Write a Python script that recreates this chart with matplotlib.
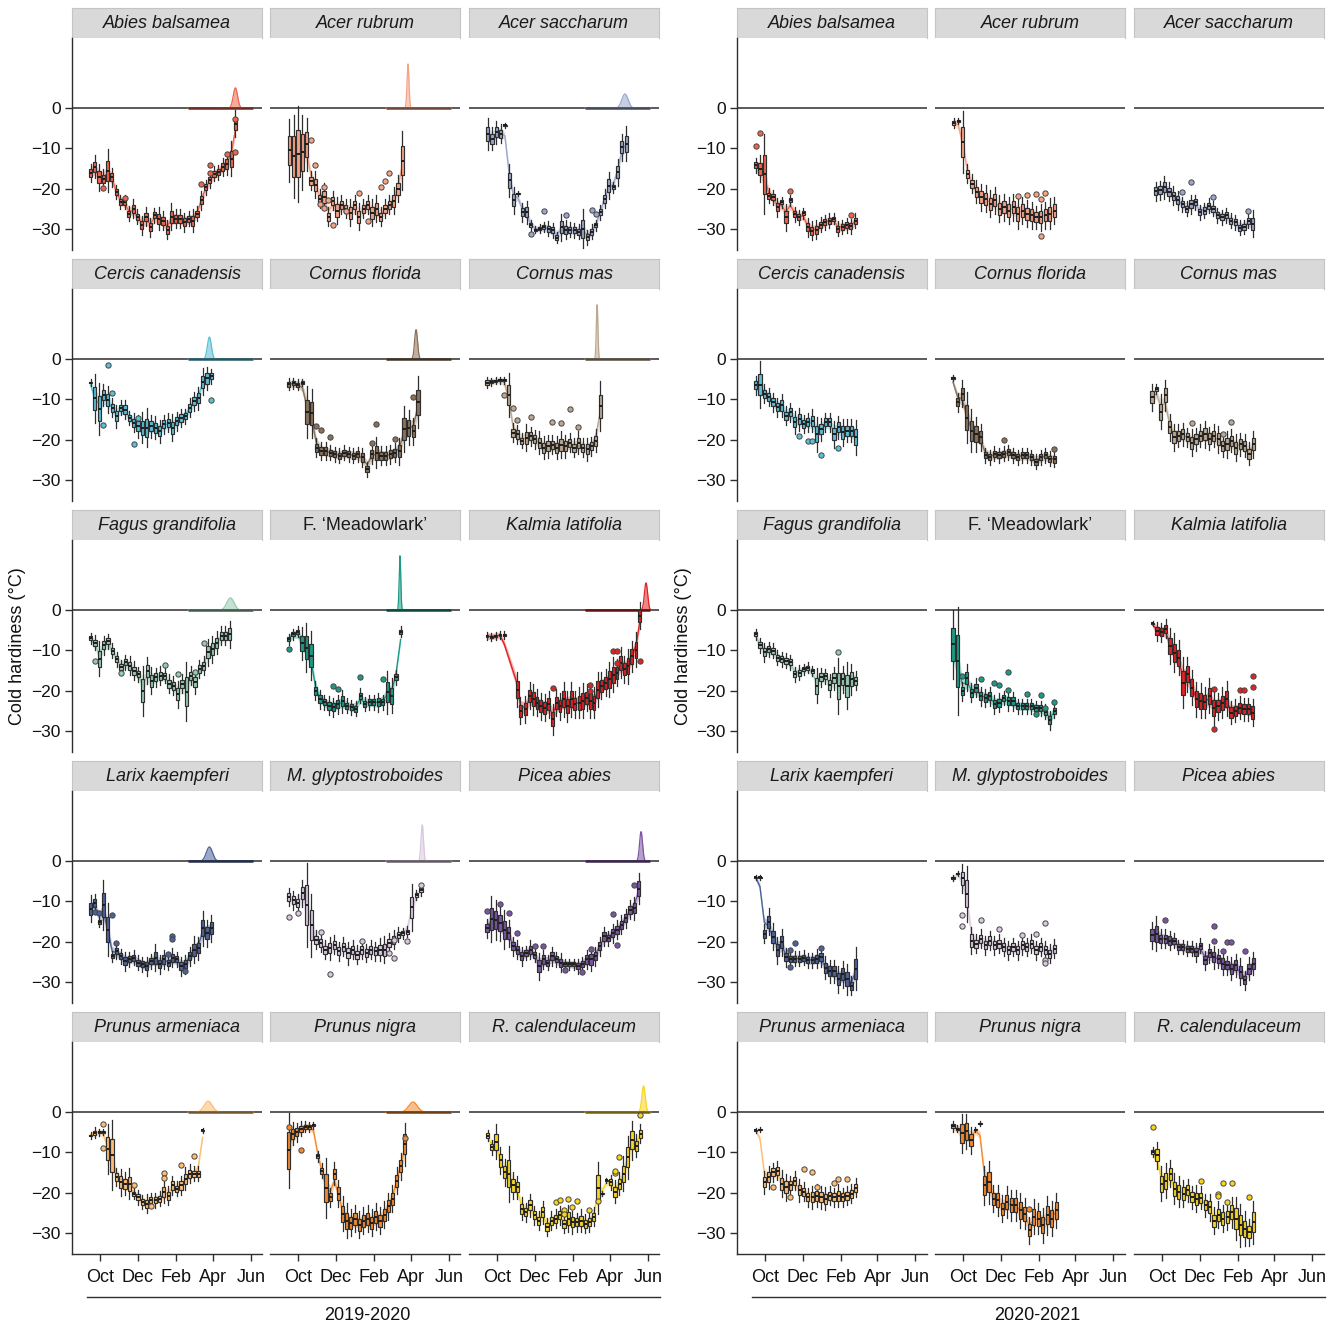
import numpy as np
import matplotlib
matplotlib.use("Agg")
import matplotlib.pyplot as plt
import matplotlib.colors as mcolors
from matplotlib.lines import Line2D

plt.rcParams['font.family'] = ['Liberation Sans', 'DejaVu Sans']

# ---------------------------------------------------------------- species
SPECIES = ["Abies balsamea", "Acer rubrum", "Acer saccharum",
           "Cercis canadensis", "Cornus florida", "Cornus mas",
           "Fagus grandifolia", "F. \u2018Meadowlark\u2019", "Kalmia latifolia",
           "Larix kaempferi", "M. glyptostroboides", "Picea abies",
           "Prunus armeniaca", "Prunus nigra", "R. calendulaceum"]
ITALIC = [True, True, True, True, True, True, True, False, True,
          True, True, True, True, True, True]
COLORS = ['#F0654B', '#F5A385', '#9AA6CB', '#5BBFD8', '#8C7057',
          '#BBA88F', '#95C9B0', '#1B9B86', '#E02323', '#4D629A',
          '#D9C7E0', '#7A55A6', '#FDBD72', '#F48A2C', '#F8D51E']

# budburst timing 2020 (days after 1 Oct): mean and spread
BUDBURST_DAY = [219, 178, 207, 177, 191, 162, 211, 165, 241, 177, 201, 233, 175, 186, 237]
BUDBURST_SD = [3.5, 1.6, 5.0, 3.2, 2.4, 1.3, 5.8, 1.3, 2.6, 5.0, 1.95, 2.4, 6.5, 7.0, 2.7]
DENSITY_AREA = 44.0
DENSITY_SPAN = (143, 248)

SEASONS = ["2019-2020", "2020-2021"]
MONTHS = ["Oct", "Dec", "Feb", "Apr", "Jun"]
MONTH_DAYS = {"2019-2020": [0, 61, 123, 183, 244], "2020-2021": [0, 61, 123, 182, 243]}

# ---------------------------------------------------------------- 2019-2020
FIRST_19 = [-15, -14, -15, -15, -15, -16, -15, -15, None, -15, -15, -16, -15, -15, -15]
LAST_19 = [219, 169, 209, 180, 194, 167, 210, 166, None, 180, 199, 229, 166, 173, 232]

abies_19_med = [-16.1, -14.6, -17.1, -17.5, -15.5, -17.1, -20.8, -23.3, -23.3, -26.2, -25.0, -27.0, -29.1, -27.0, -29.6, -26.6, -27.4, -27.9, -30.2, -27.0, -27.4, -27.4, -28.3, -27.4, -27.9, -26.2, -22.9, -19.6, -17.9, -16.3, -15.9, -14.6, -13.8, -12.6, -3.9]
abies_19_iqr = [2, 2.5, 3, 2, 5, 2, 1.5, 1.5, 1.5, 1.5, 2, 1.5, 2, 2, 2, 1.5, 2.5, 2, 2, 3, 2, 2, 2, 1.5, 2.5, 1.5, 2, 1.5, 1.5, 1.5, 1.5, 2, 2.5, 4, 3]
abies_19_out = [(3, -19.8), (8, -22.3), (26, -18.8), (28, -14.1), (28, -16.0), (32, -11.5), (34, -11.0), (34, -2.6)]

acru_19_med = [-10.5, -12, -11.3, -11, -9, -18, -19, -22.5, -22, -27, -23, -25.4, -24, -25, -26, -24, -27, -25, -24, -26, -25, -27, -25, -24, -23, -20, -13]
acru_19_iqr = [7.4, 10, 11.6, 9, 6.2, 2, 3, 2, 3, 2, 2, 3, 2, 2, 3, 2, 3, 2, 2, 3, 3, 2, 2, 2, 3, 3, 7]
acru_19_out = [(5, -8.0), (6, -14.0), (7, -23.7), (8, -19.6), (8, -24.7), (9, -22.7), (10, -29.0), (13, -25.5), (16, -21.0), (18, -28.0), (21, -19.5), (22, -18.0), (23, -16.0)]

acsa_19_med = [-6.4, -7.6, -6.0, -6.4, -4.3, -17.9, -22.9, -21.2, -25.8, -25.8, -29.1, -30.2, -29.9, -29.5, -29.9, -30.3, -32.1, -29.5, -30.2, -30.2, -30.3, -30.7, -29.9, -32.0, -30.7, -29.1, -25.8, -22.5, -19.2, -19.6, -15.9, -9.7, -8.8]
acsa_19_iqr = [3.6, 2.5, 2.5, 2, 0.3, 3.7, 3, 0.3, 2, 2.5, 1, 0.5, 0.8, 1, 1.5, 1.5, 1, 3, 2, 1.5, 1.5, 1.5, 4.5, 1.5, 1.5, 1, 1.5, 2, 3, 1, 3, 3, 4]
acsa_19_out = [(10, -31.2), (13, -25.5), (18, -26.6), (24, -25.2), (25, -26.2)]

ceca_19_med = [-5.8, -9.7, -12.3, -8.9, -10.1, -12.1, -14.2, -12.1, -12.5, -14.6, -15.8, -16.6, -17.0, -17.0, -16.6, -17.0, -17.9, -16.2, -15.8, -17.0, -15.4, -14.6, -14.2, -12.1, -10.5, -9.7, -5.6, -4.8, -4.3]
ceca_19_iqr = [0.4, 5.7, 6.1, 2.5, 3, 2, 2.5, 1.5, 2, 1.5, 2, 2.5, 3.5, 4.5, 2.5, 2.5, 2.5, 2, 2, 3, 2, 2, 1.5, 2, 2, 2.5, 3, 2.5, 1.5]
ceca_19_out = [(4, -1.5), (3, -16.4), (5, -8.4), (10, -21.1), (11, -14.6), (28, -10.1)]

cofl_19_med = [-6.2, -6.0, -6.4, -5.8, -13.1, -13.4, -22.0, -22.8, -22.8, -23.2, -23.6, -24.0, -23.2, -23.6, -24.0, -23.6, -24.4, -27.3, -23.6, -23.2, -24.0, -24.0, -23.6, -23.2, -22.8, -17.3, -17.0, -17.9, -10.7]
cofl_19_iqr = [1.2, 1, 1, 0.5, 6.1, 5.7, 2, 2, 2, 1.5, 1.5, 1.5, 1.5, 1.5, 1.5, 1.5, 2, 1.5, 2, 3.5, 2, 2, 2, 2, 3, 5.3, 4, 3, 6.1]
cofl_19_out = [(6, -16.6), (7, -17.7), (9, -19.3), (18, -20.7), (19, -16.0), (23, -19.7), (27, -9.3)]

coma_19_med = [-5.8, -5.6, -5.4, -5.3, -5.2, -8.9, -18.3, -18.7, -20.3, -19.5, -19.1, -19.9, -20.7, -22.0, -21.6, -21.2, -22.0, -21.2, -21.6, -20.8, -22.0, -20.8, -22.0, -22.4, -21.6, -20.3, -11.7]
coma_19_iqr = [1, 0.6, 0.5, 0.5, 0.5, 5, 2, 2, 1.5, 3, 2, 2, 2.5, 2.5, 2.5, 2, 2.5, 3, 2.5, 2, 2, 2.5, 2, 2.5, 2, 2.5, 5.8]
coma_19_out = [(4, -8.9), (6, -12.1), (7, -15.2), (10, -14.4), (15, -15.5), (17, -15.9), (19, -12.4), (21, -16.8)]

fagr_19_med = [-7.0, -8.1, -12.1, -8.7, -7.7, -10.1, -12.2, -14.2, -12.9, -13.8, -15.0, -15.9, -20.0, -15.0, -17.5, -16.7, -16.3, -16.3, -18.3, -18.8, -20.9, -18.3, -20.2, -16.3, -17.9, -14.6, -13.8, -10.5, -9.7, -8.1, -6.4, -6.4, -6.0]
fagr_19_iqr = [1, 1.5, 4, 2, 1.5, 1.5, 1.5, 1.5, 1.5, 2, 2, 1.5, 5.8, 3, 3, 2, 2, 1.5, 2, 2, 3, 2, 7, 2, 2.5, 2, 2, 3, 3, 2.5, 2, 2, 3]
fagr_19_out = [(1, -12.6), (7, -15.5), (17, -13.7), (20, -15.8), (24, -15.3), (26, -8.1)]

meadow_19_med = [-7.2, -6.0, -5.4, -8.2, -9.3, -11.3, -20.0, -22.1, -22.9, -23.7, -24.1, -23.3, -22.6, -23.7, -24.1, -24.5, -21.2, -23.3, -22.9, -22.9, -22.9, -22.9, -20.4, -21.2, -16.7, -5.4]
meadow_19_iqr = [1, 1, 1, 3.7, 5.8, 5.8, 2, 2, 1.5, 2, 2, 2, 2.5, 1.5, 1.5, 1.5, 1.5, 1.5, 1.5, 1.5, 2, 1.5, 5, 4, 1.5, 1]
meadow_19_out = [(0, -9.7), (10, -18.9), (11, -19.5), (16, -16.7), (21, -17.2)]

kala_19_days = [-16, -9, -2, 5, 12, 33, 38, 46, 53, 59, 65, 71, 77, 84, 90, 96, 102, 108, 114, 120, 126, 133, 139, 145, 151, 157, 163, 169, 176, 182, 188, 194, 200, 206, 212, 218, 225, 231]
kala_19_med = [-6.4, -6.6, -6.4, -6.2, -6.2, -19.7, -25.0, -24.6, -21.3, -22.1, -23.0, -23.8, -24.2, -23.4, -27.1, -23.0, -23.8, -22.1, -23.8, -22.1, -23.4, -23.0, -22.5, -21.7, -22.5, -23.0, -19.7, -18.8, -18.0, -17.2, -16.0, -15.5, -13.1, -14.7, -13.9, -11.5, -9.8, -1.4]
kala_19_iqr = [0.6, 0.6, 0.6, 0.6, 0.6, 4, 3, 3, 3, 3.5, 3, 3, 3, 3, 3.5, 3, 3, 4, 3.5, 4, 3, 3.5, 4, 3, 4, 3.5, 4, 3, 3, 4, 4, 3, 3.5, 3, 4, 3.5, 4, 3]
kala_19_out = [(14, -19.4), (24, -18.6), (24, -20.0), (30, -10.2), (31, -10.2), (31, -13.0), (37, -12.6)]

laka_19_med = [-11.8, -10.5, -15.0, -10.9, -17.0, -23.6, -22.4, -23.6, -24.8, -24.4, -24.0, -25.2, -25.6, -26.1, -24.8, -24.0, -25.6, -24.4, -25.2, -24.0, -24.4, -26.1, -25.6, -23.6, -22.0, -21.6, -16.6, -17.9, -16.6]
laka_19_iqr = [3, 2, 1, 5.8, 6.2, 1, 1.5, 1.5, 2, 1.5, 1.5, 1.5, 1.5, 2, 1.5, 3, 2, 2, 1.5, 2, 1.5, 2, 2, 2, 3, 2.5, 4, 3, 3]
laka_19_out = [(1, -12.6), (2, -12.8), (5, -13.4), (6, -20.2), (19, -18.7), (19, -19.3), (18, -23.0), (22, -27.3)]

megl_19_med = [-8.9, -9.7, -10.5, -8.0, -10.9, -15.9, -19.5, -20.3, -22.0, -21.6, -20.8, -22.4, -21.2, -22.8, -22.0, -23.2, -22.0, -22.8, -22.0, -22.4, -22.0, -22.0, -20.3, -19.5, -18.3, -17.9, -17.5, -11.5, -8.4, -7.2]
megl_19_iqr = [2, 2, 2, 3, 10, 7.5, 2, 2, 2, 2.5, 2, 2, 2, 2.5, 2, 2, 2, 2, 2, 2, 2.5, 3, 2, 2, 1.5, 1, 1, 5.4, 1, 1]
megl_19_out = [(0, -13.8), (2, -12.8), (7, -17.5), (9, -28.1), (16, -19.7), (22, -22.8), (23, -24.0), (23, -19.5), (26, -19.7), (29, -6.0)]

piab_19_med = [-16.6, -14.4, -14.6, -15.4, -17.0, -17.9, -21.1, -22.0, -23.6, -22.8, -22.0, -23.2, -26.1, -24.4, -25.2, -23.6, -24.4, -25.2, -25.6, -25.6, -25.6, -26.1, -25.6, -24.4, -24.4, -23.6, -21.1, -18.7, -19.1, -17.9, -17.0, -15.8, -14.2, -12.1, -11.7, -6.8]
piab_19_iqr = [2, 5.4, 4.5, 4, 4.5, 3, 2, 2, 2, 1.5, 2, 1.5, 3, 2, 1.5, 2, 1.5, 2, 1, 1, 1, 1.5, 1.5, 2, 2.5, 2, 2, 2, 1.5, 2, 2, 2, 2, 2, 2.5, 3.5]
piab_19_out = [(0, -12.4), (3, -10.7), (5, -12.8), (7, -17.9), (11, -21.1), (13, -21.1), (18, -27.1), (22, -27.5), (24, -21.7), (29, -13.1), (30, -20.8), (34, -5.9)]

prar_19_med = [-5.8, -5.1, -5.0, -4.9, -9.1, -10.7, -16.1, -17.4, -17.8, -17.8, -20.2, -21.1, -22.3, -22.7, -21.9, -21.9, -21.5, -19.8, -20.7, -18.2, -19.0, -18.2, -16.5, -15.3, -15.3, -15.3, -4.5]
prar_19_iqr = [0.4, 1, 0.5, 0.4, 5.8, 8.3, 2, 3, 2.5, 3.5, 1, 1.5, 1.5, 2, 1.5, 1.5, 1.5, 2.5, 2, 2, 1.5, 2, 2.5, 2, 1.5, 1.5, 0.3]
prar_19_out = [(3, -2.9), (3, -8.9), (10, -18.0), (14, -23.4), (17, -15.1), (17, -16.4), (21, -13.0), (24, -10.9)]

prni_19_med = [-9.5, -5.4, -5.0, -4.1, -3.6, -3.7, -3.3, -11.0, -14.5, -18.8, -21.1, -15.3, -20.2, -25.2, -27.0, -27.5, -26.5, -28.0, -27.0, -26.5, -27.5, -26.0, -27.0, -25.5, -23.3, -21.5, -17.0, -13.4, -8.0]
prni_19_iqr = [9, 2.5, 2, 1.5, 1, 1, 0.5, 1, 1.5, 7, 2, 2.5, 3, 4, 4, 3, 3, 3, 3, 3, 3, 3, 3, 3, 3, 3, 3, 3, 5]
prni_19_out = [(0, -3.7), (3, -9.3), (28, -6.5)]

rhca_19_med = [-5.8, -8.7, -7.4, -12.0, -14.9, -15.3, -18.2, -18.6, -24.0, -24.8, -23.1, -25.6, -26.9, -24.8, -28.5, -26.9, -26.4, -25.6, -27.7, -26.4, -27.3, -27.3, -26.9, -27.7, -27.3, -26.0, -18.8, -20.2, -16.9, -17.4, -19.8, -17.8, -15.3, -11.2, -7.0, -8.3, -5.4]
rhca_19_iqr = [1, 1.5, 4, 3, 3, 6.6, 3, 2.5, 2.5, 2, 2.5, 2, 2, 2.5, 2, 2, 2, 2, 2, 3, 2.5, 2, 2.5, 2, 2, 2, 6.2, 0.3, 0.3, 1.5, 2.5, 2.5, 4, 5, 4.5, 2.5, 2]
rhca_19_out = [(16, -22.3), (17, -21.9), (18, -24.4), (18, -25.2), (19, -21.5), (20, -23.6), (21, -22.1), (24, -24.4), (26, -22.1), (30, -15.1), (30, -14.6), (31, -11.1), (36, -0.8)]

# ---------------------------------------------------------------- 2020-2021
FIRST_20 = [-15, -15, -10, -15, -16, -16, -15, -16, -15, -15, -16, -16, -15, -16, -15]
LAST_20 = [146, 148, 147, 147, 148, 148, 147, 148, 147, 147, 148, 148, 147, 151, 148]

abies_20_med = [-14.2, -15.0, -16.4, -21.7, -22.1, -24.6, -23.4, -27.1, -22.9, -26.3, -27.1, -26.1, -29.6, -30.4, -30.2, -28.9, -28.3, -27.9, -27.4, -29.9, -29.5, -29.1, -29.3, -27.9]
abies_20_iqr = [1.5, 3, 9.6, 1.5, 1.5, 2, 1, 3, 1, 1.5, 1.5, 1, 2, 2, 2, 1.5, 1.5, 1.5, 1, 1.5, 1.5, 1.5, 1.5, 1.5]
abies_20_out = [(0, -9.3), (1, -6.2), (8, -20.6), (22, -26.6)]

acru_20_med = [-3.7, -3.2, -8.4, -16.3, -18.8, -20.8, -22.1, -22.5, -23.7, -22.9, -25.0, -24.6, -25.4, -24.6, -26.2, -25.4, -26.2, -26.6, -27.1, -27.1, -26.6, -26.2, -25.4]
acru_20_iqr = [1, 0.5, 7.4, 2, 2, 2.5, 3, 3, 3, 3, 3, 3, 3, 3, 3.5, 3, 3, 3, 2.5, 3, 3, 3.5, 3]
acru_20_out = [(14, -21.9), (16, -21.6), (18, -21.4), (19, -22.6), (20, -21.0), (19, -31.7)]

acsa_20_med = [-20.6, -20.4, -19.6, -20.8, -21.7, -22.9, -23.8, -25.0, -23.8, -23.4, -25.8, -25.4, -24.2, -25.0, -26.6, -27.1, -26.6, -27.9, -28.3, -29.7, -29.5, -27.9, -28.7]
acsa_20_iqr = [2, 2, 2.5, 2, 2, 2, 1.5, 1.5, 2, 1.5, 1.5, 1.5, 1.5, 1.5, 1.5, 1.5, 1.5, 1.5, 1.5, 1.5, 1.5, 1.5, 3]
acsa_20_out = [(6, -20.8), (8, -18.3), (13, -22.1), (21, -25.5)]

ceca_20_med = [-6.5, -6.3, -8.6, -9.4, -10.7, -11.9, -11.5, -14.0, -13.2, -15.7, -14.9, -16.1, -15.7, -15.3, -18.6, -17.4, -15.7, -15.7, -18.6, -16.9, -18.2, -17.8, -17.8, -19.4]
ceca_20_iqr = [2, 5.4, 2, 2, 2, 2, 2.5, 2, 2, 2.5, 2.5, 2, 2, 2.5, 4, 2.5, 2, 2, 3, 2.5, 3, 2.5, 2.5, 4]
ceca_20_out = [(10, -19.0), (12, -20.4), (13, -20.4), (15, -23.7), (19, -22.1)]

cofl_20_med = [-4.7, -10.7, -8.6, -14.5, -17.8, -18.6, -19.4, -23.9, -24.3, -23.5, -23.9, -23.5, -23.1, -23.9, -24.3, -23.9, -23.9, -24.3, -25.5, -24.3, -23.9, -24.7, -24.9]
cofl_20_iqr = [0.3, 2, 3, 6, 5, 4, 3, 1.5, 1.5, 1.5, 1.5, 1.5, 1.5, 1.5, 1.5, 1.5, 1.5, 1.5, 1.5, 1.5, 1.5, 1.5, 1.5]
cofl_20_out = [(11, -20.0), (22, -22.2)]

coma_20_med = [-9.4, -7.4, -13.1, -9.0, -16.9, -19.4, -19.0, -18.6, -19.4, -20.7, -19.9, -19.0, -18.6, -19.7, -19.0, -19.9, -21.5, -21.1, -20.3, -22.0, -21.1, -21.5, -23.5, -21.1]
coma_20_iqr = [3, 1, 4, 3.5, 3, 3, 2.5, 2.5, 2, 3, 2.5, 2.5, 3, 2.5, 2.5, 3, 2.5, 3, 2.5, 3, 2.5, 2.5, 2.5, 3]
coma_20_out = [(9, -15.9), (16, -18.5), (18, -15.6)]

fagr_20_med = [-6.0, -8.7, -10.5, -9.7, -10.1, -11.8, -12.2, -12.6, -12.9, -15.9, -15.5, -14.7, -14.3, -15.1, -18.8, -16.7, -16.4, -18.6, -16.9, -18.8, -17.1, -18.8, -17.1, -17.5]
fagr_20_iqr = [1, 1.5, 2, 1.5, 1.5, 1.5, 1.5, 1.5, 1.5, 1.5, 1.5, 1, 1, 1, 4, 2, 1.5, 2.5, 2.5, 6.5, 3, 5.5, 3.5, 2]
fagr_20_out = [(19, -10.3)]

meadow_20_med = [-8.5, -12.6, -20.1, -16.8, -20.5, -19.3, -21.4, -21.8, -21.4, -23.4, -23.0, -21.8, -22.6, -22.6, -23.9, -23.9, -23.8, -23.9, -24.4, -24.4, -25.2, -27.3, -25.0]
meadow_20_iqr = [8.2, 13, 2, 3, 2, 2, 2, 2, 2, 2, 2, 1.5, 2, 2, 1.5, 1.5, 1.5, 1.5, 1.5, 1.5, 1.5, 2, 1.5]
meadow_20_out = [(2, -16.4), (6, -17.2), (9, -18.2), (10, -18.7), (12, -19.7), (12, -15.3), (16, -20.9), (18, -25.8), (19, -21.0), (20, -24.2), (22, -22.8)]

kala_20_med = [-3.3, -5.2, -5.5, -4.6, -8.9, -10.6, -11.8, -18.0, -15.9, -19.2, -22.1, -22.5, -22.9, -21.2, -24.3, -23.8, -23.0, -22.0, -25.4, -25.0, -24.2, -24.6, -24.6, -25.4]
kala_20_iqr = [0.3, 2, 2, 2, 4, 4.5, 4, 6, 4, 4, 4, 4, 3.5, 4, 4, 3, 3.5, 4, 2.5, 2.5, 2.5, 2.5, 2.5, 3]
kala_20_out = [(14, -19.6), (14, -29.6), (20, -19.7), (21, -19.7), (23, -16.4), (23, -19.1)]

laka_20_med = [-4.0, -4.0, -18.0, -15.1, -18.8, -22.1, -20.1, -23.8, -24.2, -24.2, -24.2, -24.0, -24.6, -24.6, -24.2, -23.8, -26.5, -27.3, -27.3, -29.3, -28.1, -29.3, -30.9, -26.7]
laka_20_iqr = [0.3, 0.3, 2, 3, 3, 3, 3, 2, 1.5, 1.5, 1.5, 1.5, 1.5, 1.5, 2, 2, 2.5, 2.5, 2.5, 3, 3, 3.5, 2, 5]
laka_20_out = [(8, -22.1), (8, -26.2), (9, -20.2), (15, -21.5)]

megl_20_med = [-4.2, -3.1, -4.3, -8.1, -19.7, -20.5, -19.3, -20.9, -19.7, -20.9, -20.5, -21.3, -22.1, -21.3, -22.1, -20.9, -21.3, -20.5, -22.1, -21.3, -22.1, -23.0, -21.7]
megl_20_iqr = [0.3, 0.3, 3.3, 6.6, 3, 2, 2, 2, 2, 2, 2, 2, 2, 2, 2, 2, 2, 2, 2, 2, 2, 2, 2]
megl_20_out = [(2, -13.3), (2, -16.1), (6, -14.7), (10, -16.8), (15, -18.4), (18, -18.0), (20, -15.3), (20, -24.6), (20, -25.2)]

piab_20_med = [-18.4, -18.0, -19.3, -19.3, -19.7, -19.7, -21.3, -21.3, -21.7, -21.7, -22.6, -21.0, -24.6, -22.9, -23.8, -24.2, -25.4, -25.8, -26.7, -25.8, -27.5, -29.6, -26.7, -25.4]
piab_20_iqr = [3, 4, 2, 2, 2, 1.5, 1.5, 1.5, 1.5, 1.5, 2, 1.5, 2, 2, 2.5, 2, 2.5, 2, 2.5, 2.5, 3, 2, 2.5, 2.5]
piab_20_out = [(3, -14.5), (14, -16.2), (14, -19.8), (16, -22.3), (17, -20.1), (18, -20.1), (21, -22.4)]

prar_20_med = [-4.5, -4.4, -17.4, -16.1, -14.9, -14.5, -17.8, -18.6, -18.2, -17.0, -19.4, -19.8, -21.1, -21.1, -20.7, -21.1, -21.5, -20.7, -21.1, -20.7, -21.1, -20.7, -20.2, -18.8]
prar_20_iqr = [0.3, 0.3, 2.5, 2.5, 2, 2, 3, 3, 2, 2, 2.5, 2, 2, 2.5, 2.5, 2.5, 2.5, 2, 2, 2.5, 2, 2, 2, 2]
prar_20_out = [(4, -18.7), (8, -21.1), (11, -14.0), (13, -14.9), (14, -18.7), (18, -17.5), (19, -16.6), (21, -16.6)]

prni_20_med = [-3.5, -4.1, -5.3, -4.8, -7.0, -4.4, -2.9, -18.2, -17.4, -21.5, -21.9, -24.0, -22.3, -23.1, -23.1, -24.4, -25.2, -29.3, -26.0, -26.4, -28.1, -25.6, -26.4, -24.4]
prni_20_iqr = [1, 0.5, 4.5, 4.1, 3, 0.3, 0.3, 4.5, 5, 3, 3.5, 3, 3.5, 3.5, 3.5, 4, 3.5, 3, 4, 3.5, 4, 4.5, 4, 4]
prni_20_out = [(17, -24.1)]

rhca_20_med = [-9.9, -10.7, -17.8, -17.0, -15.3, -19.0, -19.8, -20.2, -19.4, -21.1, -21.5, -21.3, -23.1, -23.6, -26.9, -25.5, -26.4, -26.0, -24.8, -26.4, -28.1, -28.9, -29.8, -27.3]
rhca_20_iqr = [1, 3, 4, 4, 3, 3.5, 3.5, 3, 2.5, 2.5, 3, 2.5, 2.5, 3, 3, 3, 3, 3, 3.5, 5, 5, 4, 3, 5]
rhca_20_out = [(0, -3.7), (11, -17.1), (15, -20.2), (15, -20.9), (16, -17.6), (17, -22.4), (18, -17.6), (22, -21.1)]

# ---------------------------------------------------------------- tables
MED = {
    "2019-2020": [abies_19_med, acru_19_med, acsa_19_med, ceca_19_med, cofl_19_med,
                  coma_19_med, fagr_19_med, meadow_19_med, kala_19_med, laka_19_med,
                  megl_19_med, piab_19_med, prar_19_med, prni_19_med, rhca_19_med],
    "2020-2021": [abies_20_med, acru_20_med, acsa_20_med, ceca_20_med, cofl_20_med,
                  coma_20_med, fagr_20_med, meadow_20_med, kala_20_med, laka_20_med,
                  megl_20_med, piab_20_med, prar_20_med, prni_20_med, rhca_20_med],
}
IQR = {
    "2019-2020": [abies_19_iqr, acru_19_iqr, acsa_19_iqr, ceca_19_iqr, cofl_19_iqr,
                  coma_19_iqr, fagr_19_iqr, meadow_19_iqr, kala_19_iqr, laka_19_iqr,
                  megl_19_iqr, piab_19_iqr, prar_19_iqr, prni_19_iqr, rhca_19_iqr],
    "2020-2021": [abies_20_iqr, acru_20_iqr, acsa_20_iqr, ceca_20_iqr, cofl_20_iqr,
                  coma_20_iqr, fagr_20_iqr, meadow_20_iqr, kala_20_iqr, laka_20_iqr,
                  megl_20_iqr, piab_20_iqr, prar_20_iqr, prni_20_iqr, rhca_20_iqr],
}
OUT = {
    "2019-2020": [abies_19_out, acru_19_out, acsa_19_out, ceca_19_out, cofl_19_out,
                  coma_19_out, fagr_19_out, meadow_19_out, kala_19_out, laka_19_out,
                  megl_19_out, piab_19_out, prar_19_out, prni_19_out, rhca_19_out],
    "2020-2021": [abies_20_out, acru_20_out, acsa_20_out, ceca_20_out, cofl_20_out,
                  coma_20_out, fagr_20_out, meadow_20_out, kala_20_out, laka_20_out,
                  megl_20_out, piab_20_out, prar_20_out, prni_20_out, rhca_20_out],
}


def sample_days(season, k):
    n = len(MED[season][k])
    if season == "2019-2020":
        if FIRST_19[k] is None:
            return np.asarray(kala_19_days, float)
        return np.linspace(FIRST_19[k], LAST_19[k], n)
    return np.linspace(FIRST_20[k], LAST_20[k], n)


def darker(c, f=0.45):
    r, g, b = mcolors.to_rgb(c)
    return (r * f, g * f, b * f)


def smooth(v):
    p = np.pad(np.asarray(v, float), 1, mode='edge')
    return (p[:-2] + 4 * p[1:-1] + p[2:]) / 6.0


# ---------------------------------------------------------------- layout
W, H = 1341, 1325
fig = plt.figure(figsize=(W / 100, H / 100), dpi=100)


def px_axes(x0, y0, w, h):
    return fig.add_axes([x0 / W, 1 - (y0 + h) / H, w / W, h / H])


BLOCK_X = {"2019-2020": [72, 270, 469], "2020-2021": [737, 935, 1134]}
ROW_Y = [8, 259, 510, 761, 1012]
PW, PH, SH = 190, 212, 30
XLIM = (-45, 262)
YLIM = (-35.2, 17.4)
EDGE = '#2E2E2E'

for season in SEASONS:
    for k, name in enumerate(SPECIES):
        r, c = divmod(k, 3)
        x0 = BLOCK_X[season][c]
        y0 = ROW_Y[r]

        # facet strip
        sax = px_axes(x0, y0, PW, SH)
        sax.set_facecolor('#D9D9D9')
        for sp in sax.spines.values():
            sp.set_color('#C4C4C4')
            sp.set_linewidth(0.8)
        sax.set_xticks([])
        sax.set_yticks([])
        sax.text(0.5, 0.47, name, ha='center', va='center', fontsize=13,
                 style='italic' if ITALIC[k] else 'normal', color='#1A1A1A',
                 transform=sax.transAxes)

        ax = px_axes(x0, y0 + SH, PW, PH)
        ax.set_xlim(*XLIM)
        ax.set_ylim(*YLIM)
        for sp in ax.spines.values():
            sp.set_visible(False)
        color = COLORS[k]

        ax.axhline(0, color=EDGE, lw=1.1, zorder=1)

        # budburst density (first season only)
        if season == "2019-2020":
            grid = np.linspace(DENSITY_SPAN[0], DENSITY_SPAN[1], 600)
            mu, sd = BUDBURST_DAY[k], BUDBURST_SD[k]
            dens = DENSITY_AREA * np.exp(-0.5 * ((grid - mu) / sd) ** 2) / (sd * np.sqrt(2 * np.pi))
            ax.fill_between(grid, 0, dens, color=color, alpha=0.55, lw=0, zorder=2)
            ax.plot(grid, dens, color=color, lw=0.9, zorder=2.5)
            ax.plot(DENSITY_SPAN, [0, 0], color=darker(color), lw=1.8,
                    solid_capstyle='butt', zorder=2.6)

        days = sample_days(season, k)
        med = np.asarray(MED[season][k], float)
        iqr = np.asarray(IQR[season][k], float)
        out = OUT[season][k]

        # smoothed trend with ribbon
        s = smooth(med)
        hw = 0.6 + 0.3 * smooth(iqr)
        ax.fill_between(days, s - hw, s + hw, color=color, alpha=0.35, lw=0, zorder=3)
        ax.plot(days, s, color=color, lw=1.0, zorder=3.5)

        # weekly boxplots
        step = np.median(np.diff(days))
        width = min(0.75 * step, 5.2)
        stats = []
        for i, (m, q) in enumerate(zip(med, iqr)):
            ext = 0.5 * q + 0.35
            stats.append(dict(med=m, q1=m - q / 2, q3=m + q / 2,
                              whislo=m - q / 2 - ext, whishi=m + q / 2 + ext,
                              fliers=[v for (j, v) in out if j == i]))
        ax.bxp(stats, positions=days, widths=width, patch_artist=True,
               showcaps=False, manage_ticks=False,
               boxprops=dict(facecolor=color, edgecolor=EDGE, linewidth=0.85, zorder=4),
               medianprops=dict(color='#1E1E1E', linewidth=1.4, zorder=4.5),
               whiskerprops=dict(color=EDGE, linewidth=0.9, zorder=3.8),
               flierprops=dict(marker='o', markerfacecolor=color, markeredgecolor='#444444',
                               markeredgewidth=0.7, markersize=3.8, zorder=5))

        # axes
        if c == 0:
            ax.spines['left'].set_visible(True)
            ax.spines['left'].set_color(EDGE)
            ax.spines['left'].set_linewidth(1.0)
            ax.set_yticks([0, -10, -20, -30])
            ax.tick_params(axis='y', direction='out', length=5, width=1.0, color=EDGE,
                           labelsize=12.5, labelcolor='#111111', pad=3)
        else:
            ax.set_yticks([])
        if r == 4:
            ax.spines['bottom'].set_visible(True)
            ax.spines['bottom'].set_color(EDGE)
            ax.spines['bottom'].set_linewidth(1.0)
            ax.set_xticks(MONTH_DAYS[season])
            ax.set_xticklabels(MONTHS)
            ax.tick_params(axis='x', direction='out', length=5, width=1.0, color=EDGE,
                           labelsize=13, labelcolor='#111111', pad=6)
        else:
            ax.set_xticks([])

# season labels with rules
for season, (xa, xb), xl in [("2019-2020", (87, 660), 367), ("2020-2021", (752, 1325), 1037)]:
    fig.add_artist(Line2D([xa / W, xb / W], [1 - 1297 / H] * 2, color=EDGE, lw=1.0))
    fig.text(xl / W, 1 - 1315 / H, season, ha='center', va='center', fontsize=13, color='#111111')

# y titles
for xl in (18, 684):
    fig.text(xl / W, 1 - 646 / H, "Cold hardiness (\u00b0C)", rotation=90,
             ha='center', va='center', fontsize=13, color='#111111')

fig.savefig("out.png", dpi=100)
